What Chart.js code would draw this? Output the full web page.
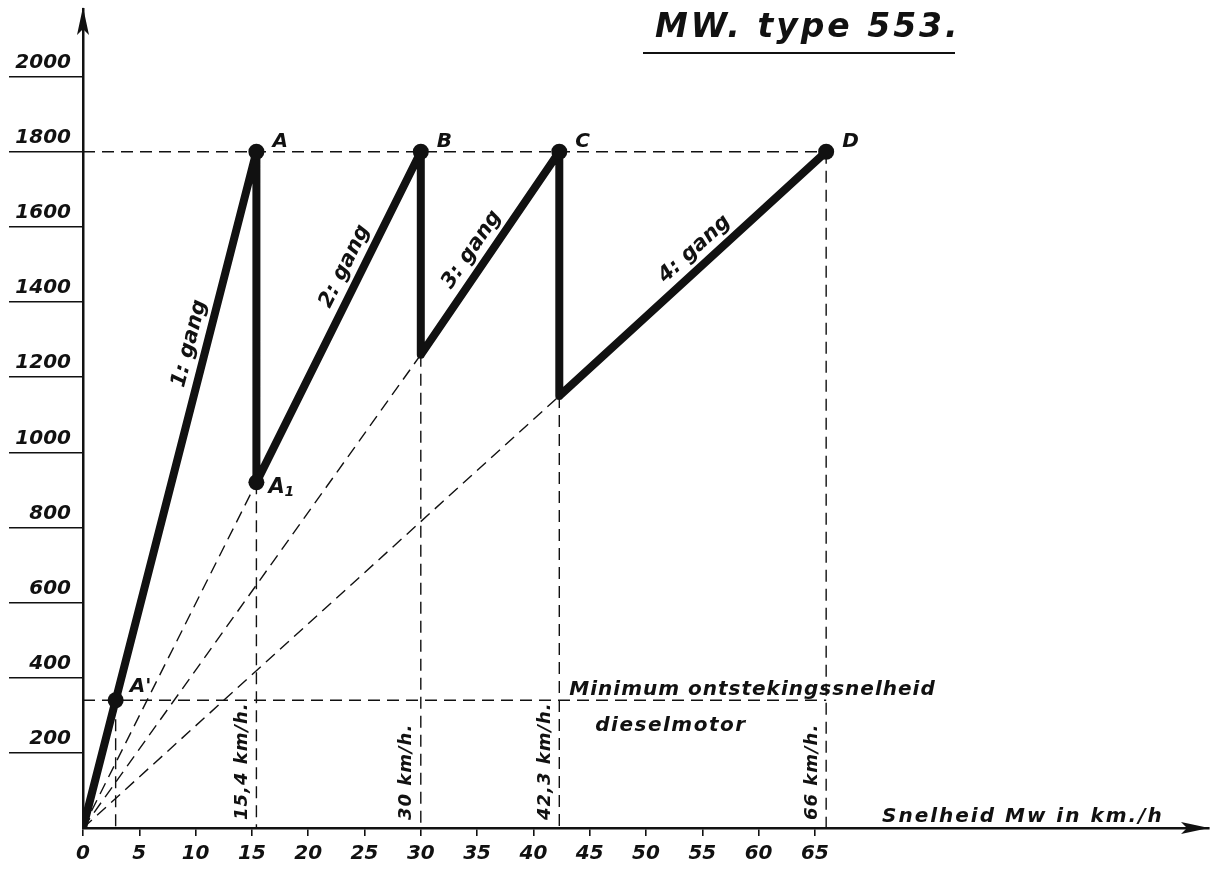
<!DOCTYPE html>
<html>
<head>
<meta charset="utf-8">
<script src="https://cdn.jsdelivr.net/npm/chart.js@4/dist/chart.umd.min.js"></script>
<style>
  html, body { margin: 0; padding: 0; background: #fff; }
  #wrap { width: 1217px; height: 883px; position: relative; }
</style>
</head>
<body>
<div id="wrap"><canvas id="chart" width="1217" height="883"></canvas></div>
<script>
// MW type 553: engine speed (rpm) against vehicle speed for the four gears

// vehicle speed (km/h) at which each gear reaches full engine speed
const shiftSpeeds = [15.4, 30, 42.3, 66];
const shiftLabels = ['15,4 km/h.', '30 km/h.', '42,3 km/h.', '66 km/h.'];

// saw-tooth curve through A', A, A1, B, C, D
const curveSpeed = [0, 2.9, 15.4, 15.4, 30, 30, 42.3, 42.3, 66];
const curveRpm   = [0, 340, 1800, 920, 1800, 1260, 1800, 1150, 1800];
const curveNames = ['', "A'", 'A', 'A1', 'B', '', 'C', '', 'D'];

// start / end index along the curve of each gear's straight run
const gearStart = [0, 3, 5, 7];
const gearEnd   = [2, 4, 6, 8];
const gearNames = ['1: gang', '2: gang', '3: gang', '4: gang'];

const maxRpm = 1800;            // full engine speed
const minIgnitionRpm = 340;     // minimum ignition speed of the diesel engine
const minIgnitionSpeed = 2.9;   // point A'

const xTicks = [0, 5, 10, 15, 20, 25, 30, 35, 40, 45, 50, 55, 60, 65];
const yTicks = [200, 400, 600, 800, 1000, 1200, 1400, 1600, 1800, 2000];
const xMax = 100;
const yMax = 2180;

const INK = '#111';
const handFont = (size, weight = 'bold') => `italic ${weight} ${size}px "DejaVu Sans", sans-serif`;

// ---- datasets -------------------------------------------------------------
const curve = curveSpeed.map((x, i) => ({ x, y: curveRpm[i] }));

const dashStyle = {
  showLine: true, borderColor: INK, borderWidth: 1.4, borderDash: [12, 7],
  pointRadius: 0, fill: false
};
const dashed = [];
// rays from the origin to the points reached after each up-shift
[3, 5, 7].forEach(i => dashed.push({ ...dashStyle, data: [{ x: 0, y: 0 }, curve[i]] }));
// verticals down to the speed axis
dashed.push({ ...dashStyle, data: [{ x: minIgnitionSpeed, y: minIgnitionRpm }, { x: minIgnitionSpeed, y: 0 }] });
[3, 5, 7, 8].forEach(i => dashed.push({ ...dashStyle, data: [curve[i], { x: curve[i].x, y: 0 }] }));
// full engine speed and minimum ignition speed levels
dashed.push({ ...dashStyle, data: [{ x: 0, y: maxRpm }, { x: shiftSpeeds[3], y: maxRpm }] });
dashed.push({ ...dashStyle, data: [{ x: 0, y: minIgnitionRpm }, { x: shiftSpeeds[3], y: minIgnitionRpm }] });

const datasets = [
  {
    data: curve, showLine: true, borderColor: INK, borderWidth: 8,
    borderJoinStyle: 'round', borderCapStyle: 'round',
    pointRadius: ctx => (curveNames[ctx.dataIndex] ? 8 : 0),
    pointBackgroundColor: INK, pointBorderWidth: 0, fill: false
  },
  ...dashed
];

// ---- drawn text and arrows -------------------------------------------------
const annotate = {
  id: 'annotate',
  afterDraw(chart) {
    const { ctx, chartArea: ca, scales: { x, y } } = chart;
    const px = v => x.getPixelForValue(v);
    const py = v => y.getPixelForValue(v);
    ctx.save();
    ctx.fillStyle = INK;
    ctx.strokeStyle = INK;

    // axis arrows
    ctx.beginPath();
    ctx.moveTo(ca.left, ca.top - 2);
    ctx.lineTo(ca.left - 6, ca.top + 26);
    ctx.lineTo(ca.left, ca.top + 20);
    ctx.lineTo(ca.left + 6, ca.top + 26);
    ctx.closePath();
    ctx.fill();
    ctx.beginPath();
    ctx.moveTo(ca.right, ca.bottom);
    ctx.lineTo(ca.right - 28, ca.bottom - 6);
    ctx.lineTo(ca.right - 22, ca.bottom);
    ctx.lineTo(ca.right - 28, ca.bottom + 6);
    ctx.closePath();
    ctx.fill();

    // point letters
    ctx.font = handFont(20);
    ctx.textBaseline = 'alphabetic';
    ctx.textAlign = 'left';
    curveNames.forEach((name, i) => {
      if (!name) return;
      const X = px(curveSpeed[i]), Y = py(curveRpm[i]);
      if (name === 'A1') {
        ctx.font = handFont(21);
        ctx.fillText('A', X + 12, Y + 11);
        ctx.font = handFont(14);
        ctx.fillText('1', X + 28, Y + 14);
        ctx.font = handFont(20);
      } else if (name === "A'") {
        ctx.fillText("A'", X + 14, Y - 8);
      } else {
        ctx.fillText(name, X + 16, Y - 5);
      }
    });

    // gear names along each run
    const gearT = [0.71, 0.63, 0.47, 0.55];
    ctx.font = handFont(21);
    ctx.textAlign = 'center';
    ctx.textBaseline = 'middle';
    gearNames.forEach((g, k) => {
      const x0 = px(curveSpeed[gearStart[k]]), y0 = py(curveRpm[gearStart[k]]);
      const x1 = px(curveSpeed[gearEnd[k]]),   y1 = py(curveRpm[gearEnd[k]]);
      const a = Math.atan2(y1 - y0, x1 - x0);
      const t = gearT[k];
      ctx.save();
      ctx.translate(x0 + (x1 - x0) * t, y0 + (y1 - y0) * t);
      ctx.rotate(a);
      ctx.fillText(g, 0, -17);
      ctx.restore();
    });

    // shift speeds written up the verticals
    ctx.font = handFont(18);
    ctx.letterSpacing = '1px';
    ctx.textAlign = 'left';
    shiftSpeeds.forEach((s, k) => {
      ctx.save();
      ctx.translate(px(s) - 14, ca.bottom - 8);
      ctx.rotate(-Math.PI / 2);
      ctx.fillText(shiftLabels[k], 0, 0);
      ctx.restore();
    });

    // minimum ignition speed note
    ctx.font = handFont(20);
    ctx.letterSpacing = '1px';
    ctx.textBaseline = 'alphabetic';
    const lineY = py(minIgnitionRpm);
    ctx.fillText('Minimum ontstekingssnelheid', px(shiftSpeeds[2]) + 10, lineY - 5);
    ctx.letterSpacing = '1.5px';
    ctx.fillText('dieselmotor', px(shiftSpeeds[2]) + 36, lineY + 31);

    // speed axis title
    ctx.font = handFont(20);
    ctx.letterSpacing = '2px';
    ctx.fillText('Snelheid Mw in km./h', 882, ca.bottom - 6);

    // chart title with underline
    ctx.font = handFont(33);
    ctx.letterSpacing = '3px';
    ctx.fillText('MW. type 553.', 655, 37);
    ctx.letterSpacing = '0px';
    ctx.lineWidth = 2;
    ctx.beginPath();
    ctx.moveTo(643, 53);
    ctx.lineTo(955, 53);
    ctx.stroke();

    ctx.restore();
  }
};

new Chart(document.getElementById('chart'), {
  type: 'scatter',
  data: { datasets },
  plugins: [annotate],
  options: {
    responsive: false,
    animation: false,
    layout: { padding: { top: 9, right: 4, left: 0, bottom: 0 } },
    plugins: { legend: { display: false }, tooltip: { enabled: false }, title: { display: false } },
    scales: {
      x: {
        type: 'linear', min: 0, max: xMax,
        afterBuildTicks: s => { s.ticks = xTicks.map(v => ({ value: v })); },
        afterFit: s => { s.height = 55; },
        grid: { drawOnChartArea: false, drawTicks: true, tickLength: 8, color: INK, lineWidth: 1.6 },
        border: { color: INK, width: 2.5 },
        ticks: {
          autoSkip: false, maxRotation: 0, padding: 6, color: INK,
          font: { family: 'DejaVu Sans', size: 20, style: 'italic', weight: 'bold' },
          callback: v => String(v)
        }
      },
      y: {
        type: 'linear', min: 0, max: yMax,
        afterBuildTicks: s => { s.ticks = yTicks.map(v => ({ value: v })); },
        afterFit: s => { s.width = 83; },
        grid: { drawOnChartArea: false, drawTicks: true, tickLength: 74, color: INK, lineWidth: 1.6 },
        border: { color: INK, width: 2.5 },
        ticks: {
          autoSkip: false, padding: -62, labelOffset: -14, color: INK,
          font: { family: 'DejaVu Sans', size: 20, style: 'italic', weight: 'bold' },
          callback: v => String(v)
        }
      }
    }
  }
});
</script>
</body>
</html>
